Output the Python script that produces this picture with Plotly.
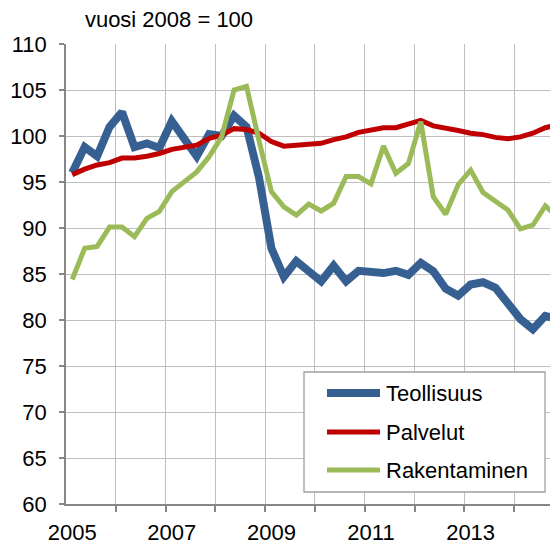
import plotly.graph_objects as go

# quarterly index, 2005Q1 .. 2014Q4
quarters = [f"{y}Q{q}" for y in range(2005, 2015) for q in range(1, 5)]
year_labels = ["2005", "2007", "2009", "2011", "2013"]

teollisuus = [96.0, 98.8, 97.8, 101.0, 102.6, 98.8, 99.2, 98.7, 101.6, 99.7,
              97.8, 100.2, 100.0, 102.2, 101.0, 95.5, 87.8, 84.7, 86.4, 85.3,
              84.2, 85.9, 84.2, 85.35, 85.2, 85.1, 85.35, 84.9, 86.2, 85.3,
              83.4, 82.65, 83.85, 84.1, 83.5, 81.75, 80.1, 79.0, 80.45, 80.1]
palvelut = [95.8, 96.4, 96.85, 97.1, 97.6, 97.6, 97.8, 98.1, 98.55, 98.8,
            99.0, 99.75, 100.1, 100.8, 100.7, 100.3, 99.4, 98.9, 99.0, 99.0,
            99.2, 99.6, 99.9, 100.4, 100.65, 100.9, 100.9, 101.3, 101.7, 101.1,
            100.9, 100.6, 100.3, 100.15, 99.85, 99.7, 99.9, 100.3, 100.9, 101.2]
rakentaminen = [84.4, 87.8, 88.0, 90.1, 90.1, 89.05, 91.05, 91.8, 93.95, 95.0,
                96.1, 97.75, 99.9, 105.0, 105.4, 99.5, 93.95, 92.3, 91.4, 92.6,
                91.85, 92.7, 95.6, 95.6, 94.8, 98.9, 95.95, 97.0, 101.55, 93.4,
                91.5, 94.7, 96.3, 93.85, 92.9, 91.95, 89.9, 90.3, 92.4, 91.2]

series = [("Teollisuus", teollisuus, "#376092", 8),
          ("Palvelut", palvelut, "#C00000", 5),
          ("Rakentaminen", rakentaminen, "#9BBB59", 5)]

FONT = "Liberation Sans, Arial, sans-serif"
FS = 22
idx = list(range(len(quarters)))

# page has an 8px body margin, so positions below are reference pixels minus 8
OFF = 8

fig = go.Figure()
for name, vals, color, w in series:
    fig.add_trace(go.Scatter(x=idx, y=vals, name=name, mode="lines",
                             line=dict(color=color, width=w),
                             text=quarters, hovertemplate="%{text}: %{y}<extra>" + name + "</extra>"))

grid = "#BFBFBF"
axis_col = "#868686"

fig.update_layout(
    template="none",
    width=558, height=544,
    margin=dict(l=66 - OFF, r=OFF, t=44 - OFF, b=40 + OFF, pad=0),
    paper_bgcolor="white", plot_bgcolor="white",
    font=dict(family=FONT, size=FS, color="black"),
    showlegend=False,
    title=dict(text="vuosi 2008 = 100", x=(169 - OFF) / 558, xanchor="center",
               y=1 - (19 - OFF) / 544, yanchor="middle",
               font=dict(family=FONT, size=FS)),
)

fig.update_xaxes(
    automargin=False,
    range=[-0.5, 39.02],
    tickmode="array", tickvals=[0, 8, 16, 24, 32], ticktext=year_labels,
    ticks="", showgrid=False, zeroline=False,
    showline=True, linecolor=axis_col, linewidth=1.5,
    ticklabelstandoff=8,
    minor=dict(tickmode="array", tickvals=[3.5 + 4 * k for k in range(10)],
               showgrid=True, gridcolor=grid, gridwidth=1.3,
               ticks="outside", ticklen=6, tickcolor=axis_col, tickwidth=1.5),
)
fig.update_yaxes(
    automargin=False,
    range=[60, 110], tickmode="array", tickvals=list(range(60, 111, 5)),
    showgrid=True, gridcolor=grid, gridwidth=1.3, zeroline=False,
    showline=True, linecolor=axis_col, linewidth=1.5,
    ticks="outside", ticklen=5, tickcolor=axis_col, tickwidth=1.5,
    ticklabelstandoff=8,
)

# legend box drawn in paper coordinates (reference pixel positions)
def px_x(p):
    return (p - 66) / 492

def px_y(p):
    return (504 - p) / 460

fig.add_shape(type="rect", xref="paper", yref="paper",
              x0=px_x(304), x1=px_x(545), y0=px_y(492), y1=px_y(372),
              fillcolor="white", line=dict(color="#A0A0A0", width=1.3), layer="above")
for (name, _, color, w), row in zip(series, [393, 432, 470]):
    fig.add_shape(type="line", xref="paper", yref="paper",
                  x0=px_x(327), x1=px_x(380), y0=px_y(row), y1=px_y(row),
                  line=dict(color=color, width=w), layer="above")
    fig.add_annotation(text=name, xref="paper", yref="paper", x=px_x(384), y=px_y(row),
                       xanchor="left", yanchor="middle", showarrow=False,
                       font=dict(family=FONT, size=FS, color="black"))

fig.write_html("out.html")
